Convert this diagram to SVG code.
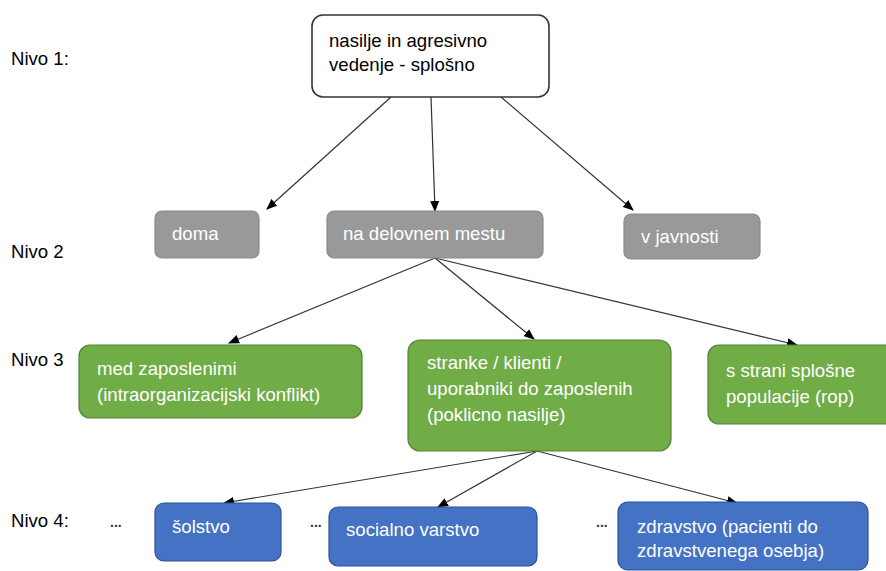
<svg xmlns="http://www.w3.org/2000/svg" width="886" height="571" viewBox="0 0 886 571">
<style>
text{font-family:"Liberation Sans",Arial,sans-serif;font-size:18.6px}
.lvl{fill:#000}
.wt{fill:#ffffff}
.bk{fill:#000}
.top{fill:#ffffff;stroke:#333333;stroke-width:1.6}
.gray{fill:#999999;stroke:#8a8a8a;stroke-width:1.2}
.green{fill:#70ad47;stroke:#548235;stroke-width:1.2}
.blue{fill:#4472c4;stroke:#2f528f;stroke-width:1.2}
.con line{stroke:#333333;stroke-width:1.2;marker-end:url(#ah)}
.dots{font-size:14px;font-weight:bold;fill:#333}
</style>
<defs>
<marker id="ah" markerUnits="userSpaceOnUse" markerWidth="11" markerHeight="9" refX="10" refY="4.5" orient="auto">
<path d="M0,0 L11,4.5 L0,9 z" fill="#000"/>
</marker>
</defs>
<rect width="886" height="571" fill="#ffffff"/>
<g id="levels">
<text class="lvl" x="11" y="65">Nivo 1:</text>
<text class="lvl" x="11" y="258">Nivo 2</text>
<text class="lvl" x="11" y="366">Nivo 3</text>
<text class="lvl" x="11" y="527">Nivo 4:</text>
<text class="dots" x="110" y="527">...</text>
<text class="dots" x="310" y="527">...</text>
<text class="dots" x="596" y="527">...</text>
</g>
<g id="connectors" class="con">
<line x1="391" y1="97" x2="267" y2="209"/>
<line x1="431" y1="97" x2="435" y2="211"/>
<line x1="501" y1="97" x2="633" y2="210"/>
<line x1="435" y1="258" x2="229" y2="343"/>
<line x1="435" y1="258" x2="534" y2="339"/>
<line x1="435" y1="258" x2="797" y2="345"/>
<line x1="537" y1="451" x2="224" y2="503"/>
<line x1="537" y1="451" x2="438" y2="507"/>
<line x1="537" y1="451" x2="737" y2="503"/>
</g>
<g id="n-splosno">
<rect class="top" x="312" y="15" width="237" height="82" rx="11"/>
<text class="bk" x="329" y="47">nasilje in agresivno</text>
<text class="bk" x="329" y="71">vedenje - splošno</text>
</g>
<g id="n-doma">
<rect class="gray" x="155" y="211" width="104" height="47" rx="7"/>
<text class="wt" x="172" y="240">doma</text>
</g>
<g id="n-delovno">
<rect class="gray" x="327" y="211" width="216" height="47" rx="7"/>
<text class="wt" x="343" y="240">na delovnem mestu</text>
</g>
<g id="n-javnost">
<rect class="gray" x="624" y="214" width="136" height="45" rx="7"/>
<text class="wt" x="641" y="243">v javnosti</text>
</g>
<g id="n-zaposleni">
<rect class="green" x="79" y="345" width="283" height="73" rx="11"/>
<text class="wt" x="97" y="375">med zaposlenimi</text>
<text class="wt" x="97" y="401">(intraorganizacijski konflikt)</text>
</g>
<g id="n-stranke">
<rect class="green" x="408" y="340" width="263" height="111" rx="12"/>
<text class="wt" x="427" y="369">stranke / klienti /</text>
<text class="wt" x="427" y="395">uporabniki do zaposlenih</text>
<text class="wt" x="427" y="421">(poklicno nasilje)</text>
</g>
<g id="n-populacija">
<rect class="green" x="708" y="345" width="200" height="79" rx="11"/>
<text class="wt" x="726" y="377">s strani splošne</text>
<text class="wt" x="726" y="403">populacije (rop)</text>
</g>
<g id="n-solstvo">
<rect class="blue" x="155" y="503" width="126" height="58" rx="9"/>
<text class="wt" x="172" y="533">šolstvo</text>
</g>
<g id="n-socialno">
<rect class="blue" x="329" y="507" width="208" height="59" rx="9"/>
<text class="wt" x="346" y="536">socialno varstvo</text>
</g>
<g id="n-zdravstvo">
<rect class="blue" x="618" y="502" width="250" height="68" rx="10"/>
<text class="wt" x="637" y="533">zdravstvo (pacienti do</text>
<text class="wt" x="637" y="557">zdravstvenega osebja)</text>
</g>
</svg>
